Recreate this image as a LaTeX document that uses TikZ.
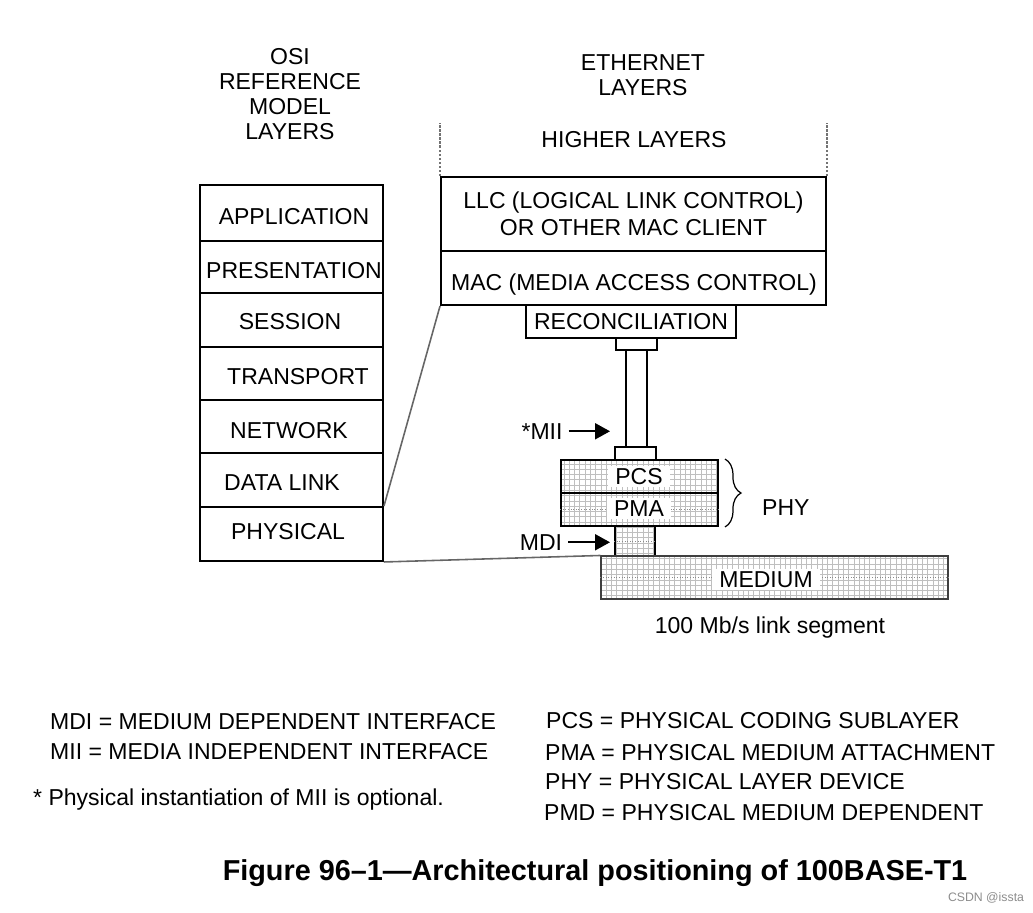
\documentclass[tikz,border=0pt]{standalone}
\usepackage{fontspec}
\setmainfont{Liberation Sans}
\usetikzlibrary{positioning,calc,patterns,decorations.pathreplacing,arrows.meta}

\begin{document}
\begin{tikzpicture}[x=0.02cm,y=-0.02cm,
  every node/.style={font=\fontsize{13.1}{14.2}\selectfont},
  lbl/.style={anchor=base,yshift=-0.164cm},
  lblw/.style={anchor=base west,yshift=-0.164cm},
  sized/.style 2 args={minimum width={(#1)*0.02cm},minimum height={(#2)*0.02cm}},
  box/.style={draw,line width=1.1pt,inner sep=0pt},
  hatch/.style={pattern=grid,pattern color=black!25},
  midline/.style={draw=black!45,densely dotted,line width=0.5pt},
  whitebg/.style={fill=white,inner xsep=0.14cm,inner ysep=0.05cm},
  dotline/.style={draw=black!55,densely dotted,line width=1.3pt},
  link/.style={draw=black!60,line width=0.9pt},
  ptr/.style={line width=1.1pt,-{Triangle[length=0.3cm,width=0.32cm]}}]
\useasboundingbox (0,0) rectangle (1033,912);
% OSI reference model
\node[lbl,align=center] (osi-head) at (290,131) {OSI\\REFERENCE\\MODEL\\LAYERS};
\foreach \nm/\txt/\ya/\yb/\tx/\ty in {app/APPLICATION/185/241/294/216,
    pres/PRESENTATION/241/293/294/270, sess/SESSION/293/347/290/321,
    trans/TRANSPORT/347/400/298/376, net/NETWORK/400/453/289/430,
    dl/DATA LINK/453/507/282/482, phys/PHYSICAL/507/561/288/531}{
  \node[box,sized={183}{\yb-\ya}] (osi-\nm) at (291.5,{(\ya+\yb)/2}) {};
  \node[lbl] (txt-\nm) at (\tx,\ty) {\txt};
}
% Ethernet layers
\node[lbl,align=center] (eth-head) at (643,87) {ETHERNET\\LAYERS};
\node[lbl] (higher) at (634,139) {HIGHER LAYERS};
\node[box,sized={385}{74},align=center,font=\fontsize{13.1}{15.3}\selectfont] (llc) at (633.5,214)
  {LLC (LOGICAL LINK CONTROL)\\OR OTHER MAC CLIENT};
\node[box,sized={385}{54}] (mac) at (633.5,278) {};
\node[lbl] (mac-txt) at (634,282) {MAC (MEDIA ACCESS CONTROL)};
\draw[dotline] (llc.north west) -- ++(0,-53);
\draw[dotline] (llc.north east) -- ++(0,-53);
\node[box,sized={210}{33}] (recon) at (631,321.5) {RECONCILIATION};
\node[box,sized={41}{12}] (plug-top) at (636.5,344) {};
\node[box,sized={21}{97}] (shaft) at (636.5,398.5) {};
\node[box,sized={41}{13}] (plug-bot) at (635.5,453.5) {};
% PHY and medium
\node[box,hatch,sized={157}{33}] (pcs) at (639.5,476.5) {};
\node[box,hatch,sized={157}{33}] (pma) at (639.5,509.5) {};
\node[box,hatch,sized={40}{30}] (mdi) at (635,541) {};
\node[draw=black!75,line width=0.6pt,inner sep=0pt,hatch,sized={347}{43}] (medium) at (774.5,577.5) {};
\draw[midline] (pma.west) -- (pma.east);
\draw[midline] (mdi.west) -- (mdi.east);
\draw[midline] (medium.west) -- (medium.east);
\node[lbl,whitebg] (pcs-txt) at (639,476) {PCS};
\node[lbl,whitebg] (pma-txt) at (639,508) {PMA};
\node[lbl,whitebg] (medium-txt) at (766,579) {MEDIUM};
\draw[decorate,decoration={brace,amplitude=0.32cm},line width=0.7pt]
  ($(pcs.north east)+(6,0)$) -- ($(pma.south east)+(6,0)$);
\node[lblw] (phy) at (756,507) {PHY};
\node[lbl] (segment) at (770,625) {100 Mb/s link segment};
% interfaces
\node[lbl] (mii-txt) at (542,431) {*MII};
\coordinate (mii-tip) at ($(shaft.west |- mii-txt.east)+(-15,0)$);
\draw[ptr] (mii-txt.east) -- (mii-tip);
\node[lbl] (mdi-txt) at (541,542) {MDI};
\coordinate (mdi-tip) at ($(mdi.west |- mdi-txt.east)+(-4,0)$);
\draw[ptr] (mdi-txt.east) -- (mdi-tip);
\draw[link] (mac.south west) -- (osi-phys.north east);
\draw[link] (osi-phys.south east) -- (medium.north west);
% legend
\node[lblw] (leg-mdi) at (44,721) {MDI = MEDIUM DEPENDENT INTERFACE};
\node[lblw] (leg-mii) at (44,751) {MII = MEDIA INDEPENDENT INTERFACE};
\node[lblw] (leg-note) at (27,797) {* Physical instantiation of MII is optional.};
\node[lblw] (leg-pcs) at (540,720) {PCS = PHYSICAL CODING SUBLAYER};
\node[lblw] (leg-pma) at (539,752) {PMA = PHYSICAL MEDIUM ATTACHMENT};
\node[lblw] (leg-phy) at (539,781) {PHY = PHYSICAL LAYER DEVICE};
\node[lblw] (leg-pmd) at (538,812) {PMD = PHYSICAL MEDIUM DEPENDENT};
\node[anchor=base,font=\bfseries\fontsize{16.4}{19}\selectfont] (caption) at (595,880)
  {Figure 96–1—Architectural positioning of 100BASE-T1};
\node[anchor=base,text=black!45,font=\fontsize{7}{8}\selectfont] (mark) at (986,901) {CSDN @issta};
\end{tikzpicture}
\end{document}
